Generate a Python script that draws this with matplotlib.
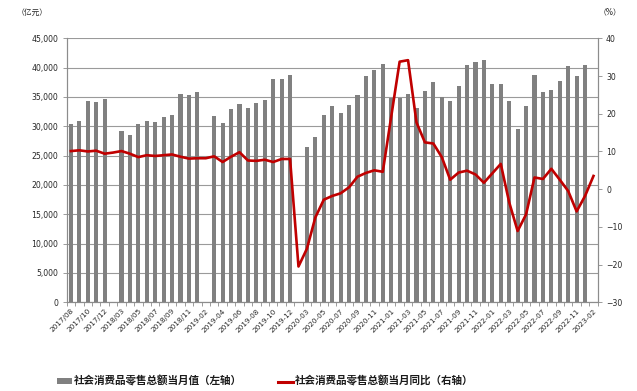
import numpy as np
import matplotlib
matplotlib.use("Agg")
import matplotlib.pyplot as plt
from matplotlib.patches import Patch
from matplotlib.lines import Line2D
from matplotlib.ticker import FuncFormatter, FixedLocator

plt.rcParams['font.family'] = ['DejaVu Sans', 'Noto Sans CJK SC']

# ---------------- data ----------------
categories = (
    ['2017/08', '2017/09', '2017/10', '2017/11', '2017/12', '2018/02'] +
    ['2018/%02d' % m for m in range(3, 13)] +
    ['2019-02'] + ['2019-%02d' % m for m in range(3, 13)] +
    ['2020-02'] + ['2020-%02d' % m for m in range(3, 13)] +
    ['2021-%02d' % m for m in range(1, 13)] +
    ['2022-%02d' % m for m in range(1, 13)] +
    ['2023-02']
)

# 社会消费品零售总额当月值 (亿元); None = no bar
retail_value = [
    30330, 30955, 34240, 34108, 34734,
    None,
    29194, 28542, 30359, 30900, 30734, 31542, 32005, 35534, 35260, 35893,
    None,
    31726, 30586, 32956, 33878, 33073, 33896, 34495, 38104, 38094, 38777,
    None,
    26450, 28178, 31973, 33526, 32203, 33571, 35295, 38576, 39514, 40566,
    34869, 34869,
    35484, 33153, 35945, 37586, 34925, 34395, 36833, 40454, 41043, 41269,
    37213, 37213,
    34233, 29600, 33500, 38742, 35870, 36258, 37745, 40271, 38615, 40500,
    None,
]

# 社会消费品零售总额当月同比 (%); None = no point
retail_yoy = [
    10.1, 10.3, 10.0, 10.2, 9.4,
    9.7,
    10.1, 9.4, 8.5, 9.0, 8.8, 9.0, 9.2, 8.6, 8.1, 8.2,
    8.2,
    8.7, 7.2, 8.6, 9.8, 7.6, 7.5, 7.8, 7.2, 8.0, 8.0,
    -20.5,
    -15.8, -7.5, -2.8, -1.8, -1.1, 0.5, 3.3, 4.3, 5.0, 4.6,
    None, 33.8,
    34.2, 17.7, 12.4, 12.1, 8.5, 2.5, 4.4, 4.9, 3.9, 1.7,
    None, 6.7,
    -3.5, -11.1, -6.7, 3.1, 2.7, 5.4, 2.5, -0.5, -5.9, -1.8,
    3.5,
]

bar_label = '社会消费品零售总额当月值（左轴）'
line_label = '社会消费品零售总额当月同比（右轴）'

# ---------------- figure ----------------
W, H = 637, 391
fig = plt.figure(figsize=(W / 100, H / 100), dpi=100)
L, R, T, B = 66.7, 597.7, 38.3, 302.3
ax = fig.add_axes([L / W, 1 - B / H, (R - L) / W, (B - T) / H])

x = np.arange(len(categories))
bx = [i for i, v in zip(x, retail_value) if v is not None]
bv = [v for v in retail_value if v is not None]
lx = [i for i, v in zip(x, retail_yoy) if v is not None]
lv = [v for v in retail_yoy if v is not None]

bar_color = '#808080'
line_color = '#C00000'
grid_color = '#9a9a9a'
spine_color = '#8c8c8c'
text_color = '#262626'

ax.bar(bx, bv, width=0.48, color=bar_color, zorder=2)
ax.set_xlim(-0.5, len(categories) - 0.5)
ax.set_ylim(0, 45000)
ax.set_yticks(np.arange(0, 45001, 5000))
ax.yaxis.set_major_formatter(FuncFormatter(lambda v, p: f'{int(v):,}'))
ax.set_axisbelow(True)
ax.grid(axis='y', color=grid_color, linewidth=0.8)

# x axis: labels every other category, tick marks between categories
ax.set_xticks(x[::2])
ax.set_xticklabels(categories[::2], rotation=45, ha='right',
                   rotation_mode='anchor', fontsize=5.2, color=text_color)
ax.xaxis.set_minor_locator(FixedLocator(np.arange(-0.5, len(categories), 1.0)))
ax.tick_params(axis='x', which='major', length=0, pad=4)
ax.tick_params(axis='x', which='minor', length=3, width=0.6, color=spine_color)
ax.tick_params(axis='y', labelsize=5.6, length=3, width=0.6,
               color=spine_color, labelcolor=text_color, pad=3)

for s in ['left', 'right', 'bottom', 'top']:
    ax.spines[s].set_color(spine_color)
    ax.spines[s].set_linewidth(0.8)
ax.spines['top'].set_visible(False)

ax2 = ax.twinx()
ax2.plot(lx, lv, color=line_color, linewidth=1.9, solid_joinstyle='round', zorder=3)
ax2.set_ylim(-30, 40)
ax2.set_yticks(np.arange(-30, 41, 10))
ax2.tick_params(axis='y', labelsize=5.6, length=3, width=0.6,
                color=spine_color, labelcolor=text_color, pad=3)
for s in ['left', 'right', 'bottom', 'top']:
    ax2.spines[s].set_color(spine_color)
    ax2.spines[s].set_linewidth(0.8)
ax2.spines['top'].set_visible(False)

# unit labels
fig.text(17 / W, 1 - 12 / H, '（亿元）', fontsize=5.6, color=text_color,
         ha='left', va='center')
fig.text(599 / W, 1 - 12 / H, '（%）', fontsize=5.6, color=text_color,
         ha='left', va='center')

# legend
handles = [Patch(facecolor=bar_color, edgecolor='none'),
           Line2D([0], [0], color=line_color, linewidth=2.2)]
leg = fig.legend(handles, [bar_label, line_label], ncol=2, frameon=False,
                 loc='center left', bbox_to_anchor=(57 / W, 1 - 381.5 / H),
                 borderpad=0, borderaxespad=0, handlelength=1.4,
                 handleheight=0.5, handletextpad=0.2, columnspacing=3.4,
                 prop={'size': 7.6, 'weight': 'bold'})
for t in leg.get_texts():
    t.set_color('#1a1a1a')

fig.savefig('out.png', dpi=100)
